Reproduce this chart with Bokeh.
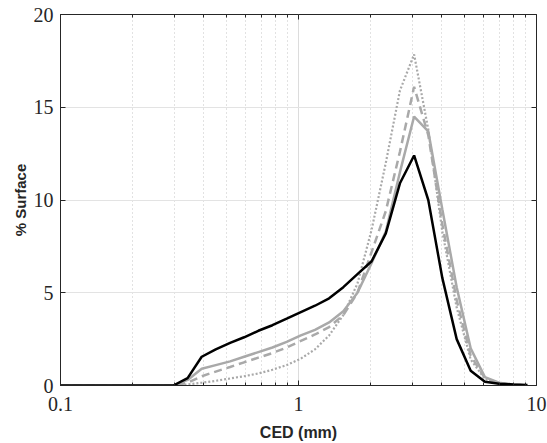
from bokeh.plotting import figure
from bokeh.models import Range1d, FixedTicker, LinearAxis, LogAxis
from bokeh.embed import file_html
from bokeh.resources import INLINE

# CED bin centres (mm)
ced = [0.1, 0.298, 0.342, 0.392, 0.449, 0.516, 0.591, 0.678, 0.777, 0.892,
       1.023, 1.173, 1.345, 1.543, 1.769, 2.029, 2.327, 2.668, 3.06, 3.51,
       4.02, 4.62, 5.29, 6.07, 6.96, 7.98, 9.16]

# % Surface, black solid series
surf_black = [0, 0, 0.4, 1.55, 1.95, 2.3, 2.6, 2.95, 3.25, 3.6,
              3.95, 4.3, 4.7, 5.3, 6.0, 6.7, 8.2, 10.9, 12.4, 10.0,
              5.8, 2.5, 0.8, 0.2, 0.1, 0.06, 0.03]
# grey solid series
surf_grey = [0, 0, 0.3, 0.9, 1.1, 1.3, 1.55, 1.8, 2.05, 2.35,
             2.7, 3.0, 3.4, 4.0, 5.0, 6.6, 8.3, 11.5, 14.5, 13.7,
             9.5, 5.3, 2.0, 0.45, 0.15, 0.05, 0.0]
# grey dashed series
surf_dashed = [0, 0, 0.15, 0.5, 0.75, 1.0, 1.25, 1.5, 1.75, 2.05,
               2.4, 2.75, 3.15, 3.8, 5.0, 7.2, 9.4, 12.6, 16.1, 13.5,
               8.7, 4.6, 1.6, 0.4, 0.12, 0.04, 0.0]
# grey dotted series
surf_dotted = [0, 0, 0.05, 0.15, 0.25, 0.38, 0.5, 0.65, 0.85, 1.1,
               1.45, 1.95, 2.7, 3.8, 5.5, 8.4, 12.0, 15.9, 17.85, 13.8,
               8.3, 4.2, 1.4, 0.35, 0.1, 0.03, 0.0]

x_major = [0.1, 1, 10]
x_minor = [0.2, 0.3, 0.4, 0.5, 0.6, 0.7, 0.8, 0.9, 2, 3, 4, 5, 6, 7, 8, 9]
x_labels = {0.1: "0.1", 1: "1", 10: "10"}
y_major = [0, 5, 10, 15, 20]

AX = "#262626"
GREY = "#a9a9a9"

p = figure(width=547, height=443, x_axis_type="log",
           x_range=Range1d(0.1, 10), y_range=Range1d(0, 20),
           output_backend="svg", toolbar_location=None,
           min_border_left=60, min_border_top=14, min_border_right=11,
           min_border_bottom=58)
p.background_fill_color = "white"
p.border_fill_color = "white"
p.outline_line_color = AX
p.outline_line_width = 1

# axes
p.xaxis.ticker = FixedTicker(ticks=x_major, minor_ticks=x_minor)
p.xaxis.major_label_overrides = x_labels
p.yaxis.ticker = FixedTicker(ticks=y_major)
for ax in (p.xaxis[0], p.yaxis[0]):
    ax.axis_line_color = AX
    ax.major_tick_line_color = AX
    ax.minor_tick_line_color = AX
    ax.major_tick_in = 5
    ax.major_tick_out = 0
    ax.minor_tick_in = 3
    ax.minor_tick_out = 0
    ax.major_label_text_font = "Liberation Serif"
    ax.major_label_text_font_size = "20px"
    ax.major_label_text_color = AX
    ax.axis_label_text_font = "Liberation Sans"
    ax.axis_label_text_font_style = "bold"
    ax.axis_label_text_color = AX
p.xaxis.axis_label = "CED (mm)"
p.yaxis.axis_label = "% Surface"
p.xaxis.axis_label_text_font_size = "16px"
p.yaxis.axis_label_text_font_size = "15px"
p.xaxis.major_label_standoff = 11
p.yaxis.major_label_standoff = 7
p.xaxis.axis_label_standoff = 10
p.yaxis.axis_label_standoff = 2
p.yaxis.minor_tick_line_color = None

# mirrored ticks on top and right
top = LogAxis(ticker=FixedTicker(ticks=x_major, minor_ticks=x_minor))
right = LinearAxis(ticker=FixedTicker(ticks=y_major))
for ax in (top, right):
    ax.axis_line_color = None
    ax.major_tick_line_color = AX
    ax.minor_tick_line_color = AX
    ax.major_tick_in = 5
    ax.major_tick_out = 0
    ax.minor_tick_in = 3
    ax.minor_tick_out = 0
    ax.major_label_text_font_size = "1px"
    ax.major_label_text_color = None
    ax.major_label_standoff = 0
right.minor_tick_line_color = None
p.add_layout(top, "above")
p.add_layout(right, "right")

# grid
p.xgrid.grid_line_color = "#dcdcdc"
p.xgrid.grid_line_width = 1
p.xgrid.minor_grid_line_color = "#c4c4c4"
p.xgrid.minor_grid_line_dash = "1 3"
p.ygrid.ticker = FixedTicker(ticks=y_major)
p.ygrid.grid_line_color = "#e3e3e3"
p.ygrid.grid_line_width = 1

# series
p.line(ced, surf_dotted, line_color=GREY, line_width=2.2, line_dash="2 2")
p.line(ced, surf_dashed, line_color=GREY, line_width=2.5, line_dash="8 5")
p.line(ced, surf_grey, line_color=GREY, line_width=2.5)
p.line(ced, surf_black, line_color="black", line_width=2.5)

open("out.html", "w").write(file_html(p, INLINE))
